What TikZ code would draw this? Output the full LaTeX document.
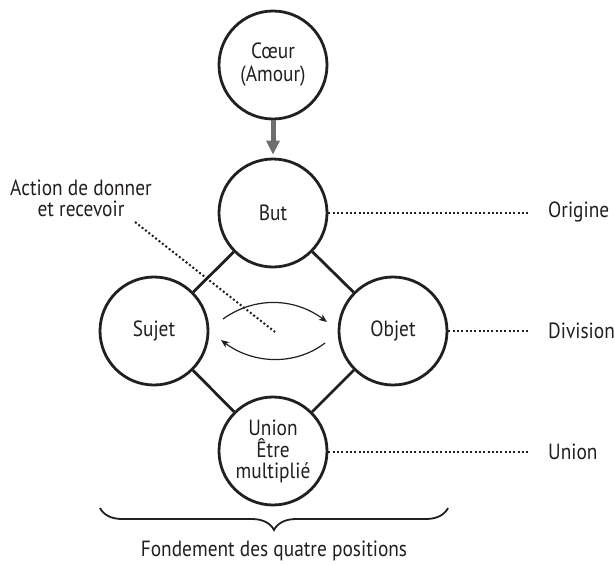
\documentclass[tikz,border=0pt]{standalone}
\usepackage{fontspec}
\setmainfont{PT Sans}[FakeStretch=0.88]
\usetikzlibrary{arrows.meta,decorations.pathreplacing}
\definecolor{ink}{HTML}{231F20}
\definecolor{arrowgray}{HTML}{6D6E70}
\begin{document}
\begin{tikzpicture}[x=1pt,y=-1pt,
  every node/.style={text=ink, font=\fontsize{22}{22}\selectfont},
  position/.style={circle, draw=ink, line width=2.8pt, minimum size=108pt, inner sep=0pt, align=center},
  link/.style={draw=ink, line width=2.8pt},
  guide/.style={draw=ink, line width=2pt, dash pattern=on 2pt off 2.3pt},
  flow/.style={draw=ink, line width=1.2pt, -{Stealth[length=8pt,width=6.5pt,inset=2pt]}},
  tag/.style={anchor=west, inner sep=0pt}]
\useasboundingbox (0,0) rectangle (615,565);

% the five positions
\node[position] (coeur) at (273,65) {Cœur\\[1pt](Amour)};
\node[position] (but) at (273,213) {But};
\node[position] (sujet) at (154,331) {Sujet};
\node[position] (objet) at (393,331) {Objet};
\node[position] (union) at (273,451) {Union\\[0pt]Être\\[-1pt]multiplié};

% heart gives rise to purpose
\draw[draw=arrowgray, line width=5pt, shorten >=3pt,
  -{Triangle[length=14pt,width=13pt]}] (coeur) -- (but);

% four-position diamond
\draw[link] (but) -- (sujet);
\draw[link] (but) -- (objet);
\draw[link] (sujet) -- (union);
\draw[link] (objet) -- (union);

% give and receive action between subject and object
\coordinate (g1) at (223,319);
\coordinate (g2) at (327,322);
\coordinate (r1) at (325,343);
\coordinate (r2) at (221,340);
\draw[flow] (g1) .. controls (255,296) and (295,298) .. (g2);
\draw[flow] (r1) .. controls (295,366) and (253,364) .. (r2);

\node[align=center, inner sep=0pt] (action) at (81,198) {Action de donner\\[-1pt]et recevoir};
\coordinate (a1) at (135,222);
\coordinate (a2) at (275,332);
\draw[guide] (a1) -- (a2);

% right-hand labels
\coordinate (e1) at (530,213);
\coordinate (e2) at (530,331);
\coordinate (e3) at (530,452);
\node[tag] (origine) at (548,212) {Origine};
\node[tag] (division) at (548,331) {Division};
\node[tag] (unionlbl) at (548,452) {Union};
\draw[guide] (but.east) -- (e1);
\draw[guide] (objet.east) -- (e2);
\draw[guide] (union.east |- e3) -- (e3);

% foundation brace
\coordinate (b1) at (100,508);
\coordinate (b2) at (448,508);
\draw[draw=ink, line width=1.8pt,
  decorate, decoration={brace, mirror, amplitude=22pt}] (b1) -- (b2);
\node (fond) at (274,551) {Fondement des quatre positions};
\end{tikzpicture}
\end{document}
